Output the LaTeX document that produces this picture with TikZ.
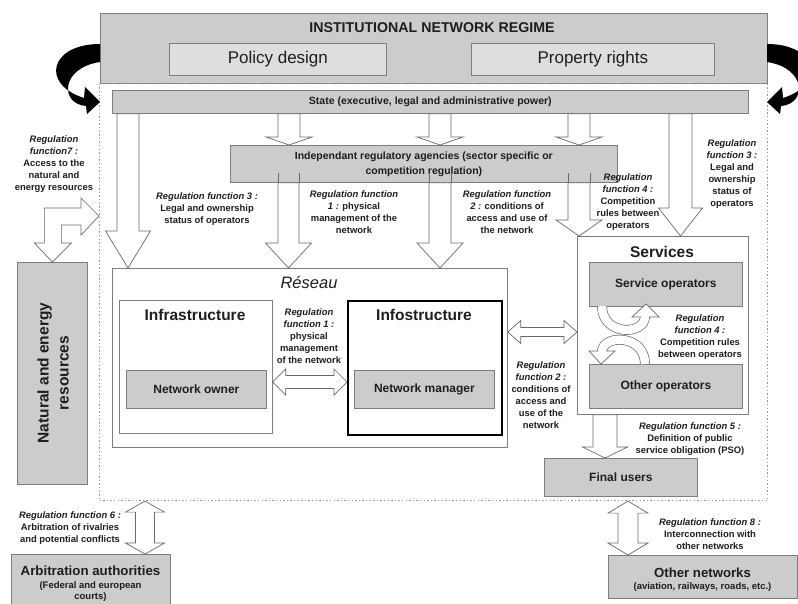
\documentclass[tikz,border=0pt]{standalone}
\usepackage{fontspec}
\setmainfont{Liberation Sans}
\usetikzlibrary{arrows.meta,calc}
\definecolor{boxgray}{RGB}{204,204,204}
\definecolor{lightbox}{RGB}{222,222,222}
\definecolor{edgegray}{RGB}{125,125,125}
\definecolor{arrowgray}{RGB}{105,105,105}
\definecolor{txt}{RGB}{30,30,30}
\definecolor{dotgray}{RGB}{150,150,150}

% vertical block arrow pointing down: x, from, to, shaft half width, head half width, head length
\newcommand\blockdown[6]{%
  \draw[barrow] let \p1=(#2), \p2=(#3) in
    ({(#1-#4)*1pt},\y1) -- ({(#1-#4)*1pt},{\y2+#6pt}) -- ({(#1-#5)*1pt},{\y2+#6pt})
    -- ({#1*1pt},\y2) -- ({(#1+#5)*1pt},{\y2+#6pt}) -- ({(#1+#4)*1pt},{\y2+#6pt})
    -- ({(#1+#4)*1pt},\y1) -- cycle;}
% shaft lines of a block arrow that show through a box: x, from point, shaft hw, length
\newcommand\shaftin[4]{%
  \draw[draw=arrowgray, line width=0.7pt] let \p1=(#2) in
    ({(#1-#3)*1pt},\y1) -- ({(#1-#3)*1pt},{\y1+#4pt})
    ({(#1+#3)*1pt},\y1) -- ({(#1+#3)*1pt},{\y1+#4pt});}
% vertical double block arrow
\newcommand\blockvv[6]{%
  \draw[barrow] let \p1=(#2), \p2=(#3) in
    ({(#1-#4)*1pt},{\y1-#6pt}) -- ({(#1-#5)*1pt},{\y1-#6pt}) -- ({#1*1pt},\y1)
    -- ({(#1+#5)*1pt},{\y1-#6pt}) -- ({(#1+#4)*1pt},{\y1-#6pt})
    -- ({(#1+#4)*1pt},{\y2+#6pt}) -- ({(#1+#5)*1pt},{\y2+#6pt}) -- ({#1*1pt},\y2)
    -- ({(#1-#5)*1pt},{\y2+#6pt}) -- ({(#1-#4)*1pt},{\y2+#6pt}) -- cycle;}
% horizontal double block arrow: y (image px), left point, right point, shaft hw, head hw, head len
\newcommand\blockhh[6]{%
  \draw[barrow] let \p1=(#2), \p2=(#3) in
    (\x1,{-#1pt}) -- ({\x1+#6pt},{(-#1+#5)*1pt}) -- ({\x1+#6pt},{(-#1+#4)*1pt})
    -- ({\x2-#6pt},{(-#1+#4)*1pt}) -- ({\x2-#6pt},{(-#1+#5)*1pt}) -- (\x2,{-#1pt})
    -- ({\x2-#6pt},{(-#1-#5)*1pt}) -- ({\x2-#6pt},{(-#1-#4)*1pt})
    -- ({\x1+#6pt},{(-#1-#4)*1pt}) -- ({\x1+#6pt},{(-#1-#5)*1pt}) -- cycle;}

\begin{document}
\begin{tikzpicture}[x=1pt,y=-1pt,
  every node/.style={text=txt},
  gbox/.style={draw=edgegray, fill=boxgray, line width=0.7pt, inner sep=0pt, anchor=north west},
  lbox/.style={gbox, fill=lightbox},
  wbox/.style={draw=edgegray, fill=white, line width=0.7pt, inner sep=0pt, anchor=north west},
  barrow/.style={draw=arrowgray, fill=white, line width=0.7pt, line join=miter},
  dblcurve/.style={draw=arrowgray, double=white, double distance=8.5pt, line width=0.7pt},
  lab/.style={align=center, font=\fontsize{9.4}{12}\selectfont\bfseries, inner sep=0pt},
  bigbold/.style={font=\fontsize{15.5}{18}\selectfont\bfseries, inner sep=0pt},
  midbold/.style={font=\fontsize{12}{14}\selectfont\bfseries}]
\useasboundingbox (0,0) rectangle (798,604);
\clip (0,0) rectangle (798,604);
\fill[white] (0,0) rectangle (798,604);

% institutional regime
\node[gbox, minimum width=667pt, minimum height=70pt] (regime) at (100,13) {};
\node[font=\fontsize{14.2}{16}\selectfont\bfseries, inner sep=0pt] (title) at (432,28) {INSTITUTIONAL NETWORK REGIME};
\node[lbox, minimum width=217pt, minimum height=32pt, font=\fontsize{17}{20}\selectfont] (policy) at (169,43) {Policy design};
\node[lbox, minimum width=243pt, minimum height=32pt, font=\fontsize{17}{20}\selectfont] (property) at (471,43) {Property rights};

% dotted frame
\node[draw=dotgray, line width=1.1pt, dash pattern=on 1.4pt off 2.2pt, inner sep=0pt, anchor=north west,
      minimum width=668pt, minimum height=417pt] (frame) at (99,83) {};

% black curved arrows
\fill[black] (100,44) .. controls (50,44) and (40,84) .. (84,98) -- (85,87) -- (100,102) -- (87,114) -- (86,106)
  .. controls (60,104) and (60,68) .. (100,62) -- cycle;
\fill[black] (767,44) .. controls (817,44) and (827,84) .. (783,98) -- (782,87) -- (767,102) -- (780,114) -- (781,106)
  .. controls (807,104) and (807,68) .. (767,62) -- cycle;

% state and agencies
\node[gbox, minimum width=636pt, minimum height=23pt, font=\fontsize{10.5}{12}\selectfont\bfseries] (state) at (112,90) {State (executive, legal and administrative power)};
\node[gbox, minimum width=387pt, minimum height=37pt, align=center, font=\fontsize{10.5}{15}\selectfont\bfseries] (agency) at (230,145) {Independant regulatory agencies (sector specific or\\competition regulation)};

% Reseau
\node[wbox, minimum width=395pt, minimum height=179pt] (reseau) at (112,268) {};
\node[font=\fontsize{16.5}{18}\selectfont\itshape, inner sep=0pt] (reseautxt) at (309,283) {Réseau};
\node[wbox, minimum width=153pt, minimum height=133pt] (infra) at (119,300) {};
\node[bigbold] (infratxt) at (195,315) {Infrastructure};
\node[gbox, minimum width=140pt, minimum height=38pt, midbold] (owner) at (126,370) {Network owner};
\node[wbox, draw=black, line width=1.6pt, minimum width=154pt, minimum height=134pt] (info) at (347,300) {};
\node[bigbold] (infotxt) at (424,315) {Infostructure};
\node[gbox, minimum width=140pt, minimum height=38pt, midbold] (manager) at (354,370) {Network manager};

% Services
\node[wbox, minimum width=171pt, minimum height=178pt] (services) at (577,236) {};
\node[bigbold] (servtxt) at (662,252) {Services};
\node[gbox, minimum width=153pt, minimum height=44pt, midbold] (servops) at (589,262) {Service operators};
\node[gbox, minimum width=153pt, minimum height=44pt, midbold] (otherops) at (589,364) {Other operators};
\node[gbox, minimum width=153pt, minimum height=38pt, midbold] (final) at (544,458) {Final users};

% outside boxes
\node[gbox, minimum width=70pt, minimum height=222pt] (natural) at (17,262) {};
\node[rotate=90, align=center, font=\fontsize{15.5}{20}\selectfont\bfseries, inner sep=0pt] (naturaltxt) at (53,373) {Natural and energy\\resources};
\node[gbox, minimum width=159pt, minimum height=55pt] (arbit) at (11,554) {};
\node[font=\fontsize{13.3}{15}\selectfont\bfseries, inner sep=0pt] (arbittxt) at (90.5,571) {Arbitration authorities};
\node[lab, font=\fontsize{9.5}{11.5}\selectfont\bfseries] (arbitsub) at (90.5,591.5) {(Federal and european\\courts)};
\node[gbox, minimum width=189pt, minimum height=43pt] (others) at (608,555) {};
\node[font=\fontsize{13.2}{15}\selectfont\bfseries, inner sep=0pt] (otherstxt) at (702.5,573) {Other networks};
\node[font=\fontsize{9.5}{11}\selectfont\bfseries, inner sep=0pt] (otherssub) at (702.5,587) {(aviation, railways, roads, etc.)};

% block arrows state -> agency
\blockdown{289}{state.south}{agency.north}{11}{23}{8}
\blockdown{440}{state.south}{agency.north}{11}{23}{8}
\blockdown{579}{state.south}{agency.north}{11}{23}{8}
% agency -> reseau / services (shafts show through the agency box)
\shaftin{288.5}{agency.south}{10.5}{10}
\shaftin{440}{agency.south}{11}{10}
\shaftin{579}{agency.south}{11}{10}
\blockdown{288.5}{agency.south}{reseau.north}{10.5}{23}{25}
\blockdown{440}{agency.south}{reseau.north}{11}{23}{25}
\blockdown{579}{agency.south}{services.north}{11}{23}{16}
% state -> reseau / services
\blockdown{128}{state.south}{reseau.north}{11}{22.5}{37}
\blockdown{680.5}{state.south}{services.north}{11.5}{22}{28}
% services -> final users
\blockdown{605}{services.south}{final.north}{12}{22.5}{11}
% horizontal double arrows
\blockhh{382}{infra.east}{info.west}{6.5}{13}{13}
\blockhh{332}{reseau.east}{services.west}{4.5}{11.5}{13}
% vertical double arrows
\blockvv{145}{frame.south}{arbit.north}{9.5}{19.5}{11}
\blockvv{628}{frame.south}{others.north}{10}{20}{12}
% elbow arrow natural resources <-> frame
\draw[barrow] let \p1=(natural.north), \p2=(frame.west) in
  (\x1,\y1) -- ({\x1-18pt},{\y1+19pt}) -- ({\x1-8pt},{\y1+19pt}) -- ({\x1-8pt},{-208pt})
  -- ({\x2-18pt},{-208pt}) -- ({\x2-18pt},{-198pt}) -- (\x2,{-216pt}) -- ({\x2-18pt},{-235pt})
  -- ({\x2-18pt},{-225pt}) -- ({\x1+9pt},{-225pt}) -- ({\x1+9pt},{\y1+19pt}) -- ({\x1+19pt},{\y1+19pt}) -- cycle;

% competition circular arrows
\draw[dblcurve] (602,306) .. controls (602,336) and (645,336) .. (645,316);
\filldraw[barrow] (641,317) -- (632,317) -- (646,304) -- (659,317) -- (649,317);
\draw[dblcurve] (645,364) .. controls (645,334) and (602,334) .. (602,352);
\filldraw[barrow] (598,351) -- (589,351) -- (601,364) -- (615,351) -- (606,351);

% labels
\node[lab] (rf7) at (54,164.5) {{\itshape Regulation}\\{\itshape function7 :}\\Access to the\\natural and\\energy resources};
\node[lab] (rf3a) at (207,209) {{\itshape Regulation function 3 :}\\Legal and ownership\\status of operators};
\node[lab] (rf1a) at (354,212) {{\itshape Regulation function}\\{\itshape 1 :} physical\\management of the\\network};
\node[lab] (rf2a) at (507,212) {{\itshape Regulation function}\\{\itshape 2 :} conditions of\\access and use of\\the network};
\node[lab] (rf4a) at (628,202) {{\itshape Regulation}\\{\itshape function 4 :}\\Competition\\rules between\\operators};
\node[lab] (rf3b) at (732,174) {{\itshape Regulation}\\{\itshape function 3 :}\\Legal and\\ownership\\status of\\operators};
\node[lab] (rf1b) at (309,336) {{\itshape Regulation}\\{\itshape function 1 :}\\physical\\management\\of the network};
\node[lab] (rf2b) at (541,395) {{\itshape Regulation}\\{\itshape function 2 :}\\conditions of\\access and\\use of the\\network};
\node[lab] (rf4b) at (700,337) {{\itshape Regulation}\\{\itshape function 4 :}\\Competition rules\\between operators};
\node[lab] (rf5) at (690,439) {{\itshape Regulation function 5 :}\\Definition of public\\service obligation (PSO)};
\node[lab] (rf6) at (70,528) {{\itshape Regulation function 6 :}\\Arbitration of rivalries\\and potential conflicts};
\node[lab] (rf8) at (710,534) {{\itshape Regulation function 8 :}\\Interconnection with\\other networks};
\end{tikzpicture}
\end{document}
